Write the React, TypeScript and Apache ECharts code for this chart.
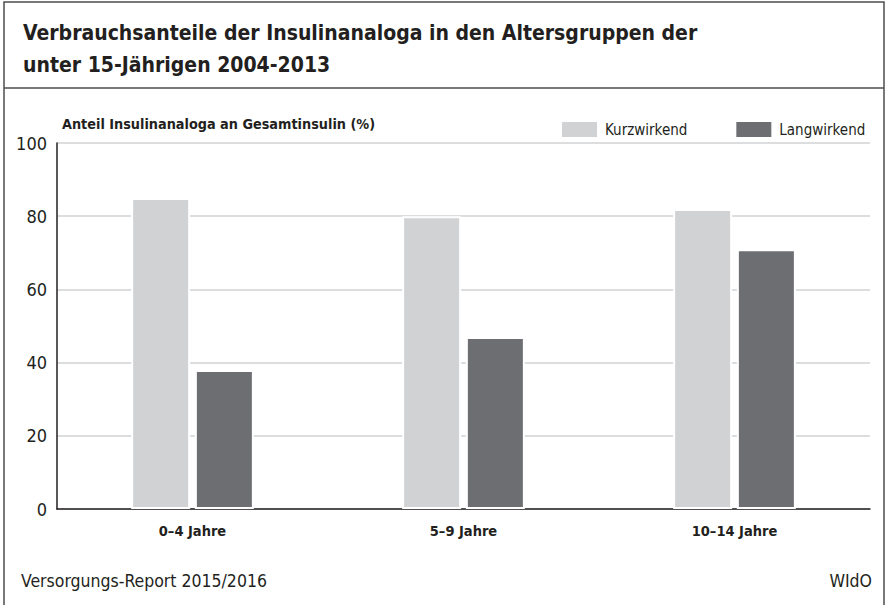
import React, { useEffect, useRef } from "react";
import * as echarts from "echarts";

const categories = ["0–4 Jahre", "5–9 Jahre", "10–14 Jahre"];
const kurzwirkend = [85, 80, 82];
const langwirkend = [38, 47, 71];
const seriesNames = ["Kurzwirkend", "Langwirkend"];
const titleLines = [
  "Verbrauchsanteile der Insulinanaloga in den Altersgruppen der",
  "unter 15-Jährigen 2004-2013",
];
const yAxisTitle = "Anteil Insulinanaloga an Gesamtinsulin (%)";
const sourceText = "Versorgungs-Report 2015/2016";
const publisherText = "WIdO";

const FONT = "'DejaVu Sans Condensed', 'Liberation Sans Narrow', sans-serif";
const INK = "#231f20";
const LIGHT = "#d1d2d4";
const DARK = "#6d6e71";

export default function App() {
  const ref = useRef<HTMLDivElement>(null);
  useEffect(() => {
    if (!ref.current) return;
    const chart = echarts.init(ref.current, null, { renderer: "svg" });
    chart.setOption({
      animation: false,
      backgroundColor: "#ffffff",
      textStyle: { fontFamily: FONT },
      title: {
        text: titleLines.join("\n"),
        left: 18,
        top: 12,
        textStyle: {
          fontFamily: FONT,
          fontSize: 21,
          fontWeight: "bold",
          color: INK,
          lineHeight: 32,
        },
      },
      legend: {
        left: 557,
        top: 117,
        itemWidth: 35,
        itemHeight: 15,
        itemGap: 49,
        icon: "rect",
        data: seriesNames,
        itemStyle: { borderWidth: 0 },
        textStyle: { fontFamily: FONT, fontSize: 15, color: INK, padding: [0, 0, 0, 3] },
      },
      grid: { left: 57, right: 16, top: 143, bottom: 96, containLabel: false },
      xAxis: {
        type: "category",
        data: categories,
        axisTick: { show: false },
        axisLine: { show: true, lineStyle: { color: INK, width: 1.5 } },
        axisLabel: {
          fontFamily: FONT,
          fontSize: 14.5,
          fontWeight: "bold",
          color: INK,
          margin: 14,
        },
      },
      yAxis: {
        type: "value",
        min: 0,
        max: 100,
        interval: 20,
        axisLine: { show: true, lineStyle: { color: INK, width: 1.5 } },
        axisTick: { show: false },
        axisLabel: { fontFamily: FONT, fontSize: 18, color: INK, margin: 10 },
        splitLine: { show: true, lineStyle: { color: LIGHT, width: 1.5 } },
      },
      series: [
        {
          name: seriesNames[0],
          type: "bar",
          data: kurzwirkend,
          barWidth: 59,
          barGap: "8%",
          itemStyle: { color: LIGHT, borderColor: "#ffffff", borderWidth: 2 },
          z: 3,
        },
        {
          name: seriesNames[1],
          type: "bar",
          data: langwirkend,
          barWidth: 59,
          itemStyle: { color: DARK, borderColor: "#ffffff", borderWidth: 2 },
          z: 3,
        },
      ],
      graphic: [
        {
          type: "rect",
          shape: { x: 4, y: 2, width: 880, height: 610 },
          style: { fill: "none", stroke: "#4d4d4f", lineWidth: 1.5 },
          silent: true,
          z: 10,
        },
        {
          type: "line",
          shape: { x1: 4, y1: 88, x2: 884, y2: 88 },
          style: { stroke: "#4d4d4f", lineWidth: 1.5 },
          silent: true,
          z: 10,
        },
        {
          type: "text",
          left: 62,
          top: 117,
          style: {
            text: yAxisTitle,
            font: `bold 14.3px ${FONT}`,
            fill: INK,
          },
        },
        {
          type: "text",
          left: 21,
          top: 572,
          style: { text: sourceText, font: `17.5px ${FONT}`, fill: INK },
        },
        {
          type: "text",
          right: 14,
          top: 572,
          style: { text: publisherText, font: `17.5px ${FONT}`, fill: INK },
        },
      ],
    });
    return () => chart.dispose();
  }, []);
  return <div ref={ref} style={{ width: 886, height: 605, position: "absolute", left: 0, top: 0 }} />;
}
